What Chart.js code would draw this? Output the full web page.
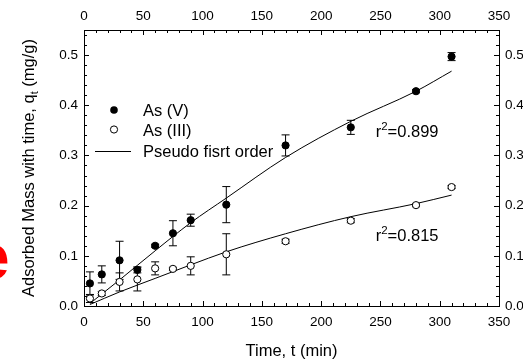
<!DOCTYPE html>
<html><head><meta charset="utf-8">
<script src="https://cdn.jsdelivr.net/npm/chart.js@4"></script>
<style>html,body{margin:0;padding:0;background:#fff;}canvas{display:block;}</style>
</head><body>
<canvas id="c" width="523" height="360"></canvas>
<script>
const timeMin   = [5, 15, 30, 45, 60, 75, 90, 120, 170, 225, 280, 310];
const qAsV      = [0.045, 0.063, 0.091, 0.072, 0.120, 0.145, 0.171, 0.202, 0.320, 0.356, 0.428, 0.497];
const errAsV    = [0.023, 0.017, 0.038, 0.006, 0.003, 0.025, 0.012, 0.036, 0.021, 0.014, 0.003, 0.008];
const qAsIII    = [0.015, 0.025, 0.048, 0.053, 0.075, 0.074, 0.080, 0.103, 0.129, 0.170, 0.201, 0.237];
const errAsIII  = [0.008, 0.004, 0.018, 0.023, 0.013, 0.003, 0.018, 0.041, 0.004, 0.004, 0.003, 0.003];
const fitTime   = [5, 30, 60, 90, 120, 170, 225, 280, 310];
const fitAsV    = [0.005, 0.052, 0.110, 0.166, 0.215, 0.296, 0.368, 0.428, 0.468];
const fitAsIII  = [0.003, 0.028, 0.055, 0.082, 0.108, 0.144, 0.178, 0.204, 0.221];
const xTickValues = [0, 50, 100, 150, 200, 250, 300, 350];
const yTickValues = [0.0, 0.1, 0.2, 0.3, 0.4, 0.5];
const legendLabels = ['As (V)', 'As (III)', 'Pseudo fisrt order'];
const r2Values = ['0.899', '0.815'];
const yTitleParts = ['Adsorbed Mass with time, q', 't', ' (mg/g)'];
const xTitle = 'Time, t (min)';
const panelLetter = 'e';

const FONT = '"Liberation Sans", Arial, Helvetica, sans-serif';
const pts = (xs, ys) => xs.map((v, i) => ({x: v, y: ys[i]}));

const deco = {
  id: 'deco',
  beforeDatasetsDraw(chart) {
    const {ctx, scales: {x, y}} = chart;
    ctx.save();
    ctx.strokeStyle = '#000';
    ctx.lineWidth = 1;
    const drawErr = (q, e) => {
      timeMin.forEach((t, i) => {
        const px = x.getPixelForValue(t);
        const y1 = y.getPixelForValue(q[i] + e[i]);
        const y2 = y.getPixelForValue(q[i] - e[i]);
        ctx.beginPath();
        ctx.moveTo(px, y1); ctx.lineTo(px, y2);
        ctx.moveTo(px - 4, y1); ctx.lineTo(px + 4, y1);
        ctx.moveTo(px - 4, y2); ctx.lineTo(px + 4, y2);
        ctx.stroke();
      });
    };
    drawErr(qAsV, errAsV);
    drawErr(qAsIII, errAsIII);
    ctx.restore();
  },
  afterDraw(chart) {
    const {ctx, chartArea: a, scales: {x, y}} = chart;
    ctx.save();
    ctx.strokeStyle = '#000';
    ctx.fillStyle = '#000';
    ctx.lineWidth = 1;
    // inward ticks
    ctx.beginPath();
    for (let i = 0; i <= 35; i++) {
      const px = Math.round(x.getPixelForValue(i * 10)) + 0.5;
      const len = (i % 5 === 0) ? 5 : 3;
      ctx.moveTo(px, a.bottom); ctx.lineTo(px, a.bottom - len);
      ctx.moveTo(px, a.top); ctx.lineTo(px, a.top + len);
    }
    for (let i = 0; i <= 27; i++) {
      const py = Math.round(y.getPixelForValue(i * 0.02)) + 0.5;
      const len = (i % 5 === 0) ? 5 : 3;
      ctx.moveTo(a.left, py); ctx.lineTo(a.left + len, py);
      ctx.moveTo(a.right, py); ctx.lineTo(a.right - len, py);
    }
    ctx.stroke();

    // legend
    ctx.beginPath(); ctx.arc(114, 110, 3.8, 0, Math.PI * 2); ctx.fill();
    ctx.beginPath(); ctx.arc(114, 129.5, 3.6, 0, Math.PI * 2);
    ctx.fillStyle = '#fff'; ctx.fill(); ctx.stroke();
    ctx.beginPath(); ctx.moveTo(95, 151.5); ctx.lineTo(131, 151.5); ctx.stroke();
    ctx.fillStyle = '#000';
    ctx.font = '16.5px ' + FONT;
    ctx.textAlign = 'left';
    ctx.textBaseline = 'alphabetic';
    ctx.fillText(legendLabels[0], 143, 115.5);
    ctx.fillText(legendLabels[1], 143, 135.5);
    ctx.fillText(legendLabels[2], 143, 157);

    // r^2 labels
    const r2 = (val, tx, qy) => {
      let px = x.getPixelForValue(tx);
      const py = y.getPixelForValue(qy);
      ctx.font = '16.5px ' + FONT;
      ctx.fillText('r', px, py); px += ctx.measureText('r').width;
      ctx.font = '11.5px ' + FONT;
      ctx.fillText('2', px, py - 7); px += ctx.measureText('2').width;
      ctx.font = '16.5px ' + FONT;
      ctx.fillText('=' + val, px, py);
    };
    r2(r2Values[0], 246, 0.337);
    r2(r2Values[1], 246, 0.129);

    // y title
    ctx.save();
    ctx.translate(34, (a.top + a.bottom) / 2);
    ctx.rotate(-Math.PI / 2);
    ctx.font = '16.5px ' + FONT;
    const w0 = ctx.measureText(yTitleParts[0]).width;
    const w2 = ctx.measureText(yTitleParts[2]).width;
    ctx.font = '11px ' + FONT;
    const w1 = ctx.measureText(yTitleParts[1]).width;
    let sx = -(w0 + w1 + w2) / 2;
    ctx.font = '16.5px ' + FONT;
    ctx.fillText(yTitleParts[0], sx, 0); sx += w0;
    ctx.font = '11px ' + FONT;
    ctx.fillText(yTitleParts[1], sx, 4); sx += w1;
    ctx.font = '16.5px ' + FONT;
    ctx.fillText(yTitleParts[2], sx, 0);
    ctx.restore();

    // cropped red panel letter
    ctx.fillStyle = '#ff0000';
    ctx.font = 'bold 64px ' + FONT;
    ctx.textAlign = 'right';
    ctx.fillText(panelLetter, 9.5, 279);
    ctx.restore();
  }
};

const tickFont = {family: FONT, size: 13.5};
const setTicksX = s => { s.ticks = xTickValues.map(v => ({value: v})); };
const setTicksY = s => { s.ticks = yTickValues.map(v => ({value: v})); };
const common = {
  grid: {display: false, drawTicks: false},
  border: {display: true, color: '#000', width: 1}
};

new Chart(document.getElementById('c'), {
  type: 'scatter',
  data: {
    datasets: [
      {label: legendLabels[0], data: pts(timeMin, qAsV), pointRadius: 3.6, pointHoverRadius: 3.6,
       pointBackgroundColor: '#000', pointBorderColor: '#000', pointBorderWidth: 1, showLine: false},
      {label: legendLabels[1], data: pts(timeMin, qAsIII), pointRadius: 3.6, pointHoverRadius: 3.6,
       pointBackgroundColor: '#fff', pointBorderColor: '#000', pointBorderWidth: 1, showLine: false},
      {label: legendLabels[2], data: pts(fitTime, fitAsV), showLine: true, pointRadius: 0,
       borderColor: '#000', borderWidth: 1, cubicInterpolationMode: 'monotone'},
      {label: legendLabels[2], data: pts(fitTime, fitAsIII), showLine: true, pointRadius: 0,
       borderColor: '#000', borderWidth: 1, cubicInterpolationMode: 'monotone'}
    ]
  },
  options: {
    responsive: false,
    animation: false,
    devicePixelRatio: 1,
    layout: {padding: 0},
    plugins: {legend: {display: false}, tooltip: {enabled: false}},
    scales: {
      x: Object.assign({}, common, {
        type: 'linear', position: 'bottom', min: 0, max: 350,
        afterBuildTicks: setTicksX, afterFit: s => { s.height = 54; },
        ticks: {padding: 8, color: '#000', font: tickFont, maxRotation: 0, autoSkip: false},
        title: {display: true, text: xTitle, color: '#000', font: {family: FONT, size: 16.5, lineHeight: 1}, padding: {top: 0, bottom: 0}}
      }),
      x2: Object.assign({}, common, {
        type: 'linear', position: 'top', min: 0, max: 350,
        afterBuildTicks: setTicksX, afterFit: s => { s.height = 30; },
        ticks: {padding: 5.5, color: '#000', font: tickFont, maxRotation: 0, autoSkip: false}
      }),
      y: Object.assign({}, common, {
        type: 'linear', position: 'left', min: 0, max: 0.55,
        afterBuildTicks: setTicksY, afterFit: s => { s.width = 84; },
        ticks: {padding: 6, color: '#000', font: tickFont, autoSkip: false, callback: v => Number(v).toFixed(1)}
      }),
      y2: Object.assign({}, common, {
        type: 'linear', position: 'right', min: 0, max: 0.55,
        afterBuildTicks: setTicksY, afterFit: s => { s.width = 24; },
        ticks: {padding: 6, color: '#000', font: tickFont, autoSkip: false, callback: v => Number(v).toFixed(1)}
      })
    }
  },
  plugins: [deco]
});
</script>
</body></html>
